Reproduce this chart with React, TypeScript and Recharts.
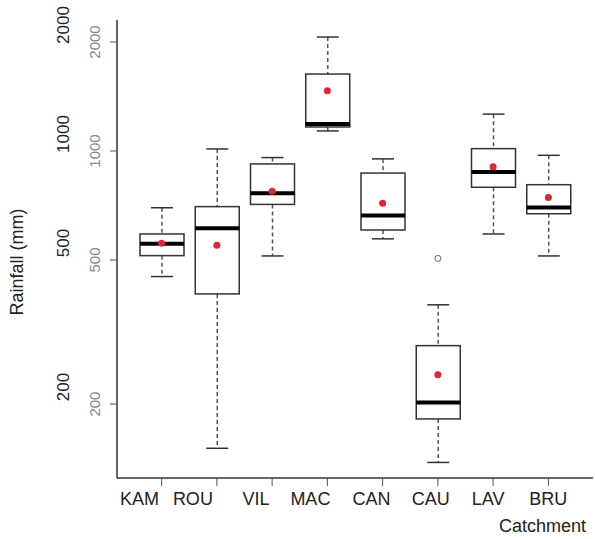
import React from "react";
import {
  Bar,
  ComposedChart,
  Scatter,
  XAxis,
  YAxis,
} from "recharts";

const catchments = ["KAM", "ROU", "VIL", "MAC", "CAN", "CAU", "LAV", "BRU"];
const whiskerLow = [450, 151, 513, 1136, 572, 138, 590, 513];
const q1 = [514, 403, 712, 1165, 605, 182, 794, 671];
const median = [554, 612, 764, 1188, 664, 202, 875, 698];
const q3 = [590, 702, 921, 1631, 869, 290, 1015, 807];
const whiskerHigh = [697, 1013, 959, 2064, 951, 376, 1264, 973];
const means = [556, 549, 774, 1466, 717, 241, 905, 744];
const outliers: (number | null)[] = [null, null, null, null, null, 505, null, null];
const yTicks = [200, 500, 1000, 2000];

const data = catchments.map((name, i) => ({
  name,
  range: [whiskerLow[i], whiskerHigh[i]],
  q1: q1[i],
  median: median[i],
  q3: q3[i],
  mean: means[i],
  outlier: outliers[i],
}));

// the category labels in the original sit a bit left of their ticks
const labelShift: Record<string, number> = {
  KAM: -22,
  ROU: -24,
  VIL: -16,
  MAC: -17,
  CAN: -11,
  CAU: -7,
  LAV: -5,
  BRU: 0,
};

// box drawn inside the whisker range bar; inner values placed in log space
function BoxShape(props: any) {
  const { x, y, width, height, payload } = props;
  const [lo, hi] = payload.range;
  const toY = (v: number) =>
    y + (height * (Math.log(hi) - Math.log(v))) / (Math.log(hi) - Math.log(lo));
  const cx = x + width / 2;
  const yQ1 = toY(payload.q1);
  const yQ3 = toY(payload.q3);
  const yMed = toY(payload.median);
  const yHi = y;
  const yLo = y + height;
  const cap = width / 4;
  return (
    <g>
      <line x1={cx} x2={cx} y1={yHi} y2={yQ3} stroke="#555" strokeWidth={1.5} strokeDasharray="4 3" />
      <line x1={cx} x2={cx} y1={yQ1} y2={yLo} stroke="#555" strokeWidth={1.5} strokeDasharray="4 3" />
      <line x1={cx - cap} x2={cx + cap} y1={yHi} y2={yHi} stroke="#333" strokeWidth={1.5} />
      <line x1={cx - cap} x2={cx + cap} y1={yLo} y2={yLo} stroke="#333" strokeWidth={1.5} />
      <rect x={x} y={yQ3} width={width} height={yQ1 - yQ3} fill="#fff" stroke="#333" strokeWidth={1.5} />
      <line x1={x} x2={x + width} y1={yMed} y2={yMed} stroke="#000" strokeWidth={4} />
    </g>
  );
}

function MeanDot(props: any) {
  const { cx, cy } = props;
  if (cx == null || cy == null || isNaN(cy)) return <g />;
  return <circle cx={cx} cy={cy} r={3.5} fill="#e0262a" />;
}

function OutlierDot(props: any) {
  const { cx, cy, payload } = props;
  if (payload == null || payload.outlier == null || isNaN(cy)) return <g />;
  return <circle cx={cx} cy={cy} r={3} fill="none" stroke="#666" strokeWidth={1} />;
}

function XTick(props: any) {
  const { x, y, payload } = props;
  const shift = labelShift[payload.value] ?? 0;
  return (
    <text x={x + shift} y={y} dy="0.71em" textAnchor="middle" fontSize={18} fill="#222">
      {payload.value}
    </text>
  );
}

function YTick(props: any) {
  const { x, y, payload } = props;
  const sx = x - 15;
  const bx = x - 46;
  const by = y - 17;
  return (
    <g>
      <text
        x={sx}
        y={y}
        transform={`rotate(-90, ${sx}, ${y})`}
        textAnchor="middle"
        dominantBaseline="central"
        fontSize={15}
        fill="#888"
      >
        {payload.value}
      </text>
      <text
        x={bx}
        y={by}
        transform={`rotate(-90, ${bx}, ${by})`}
        textAnchor="middle"
        dominantBaseline="central"
        fontSize={17}
        fill="#222"
      >
        {payload.value}
      </text>
    </g>
  );
}

export default function App() {
  return (
    <div
      style={{
        position: "absolute",
        left: 0,
        top: 0,
        background: "#fff",
        fontFamily: "'Liberation Sans', Arial, sans-serif",
      }}
    >
      <ComposedChart
        width={595}
        height={539}
        data={data}
        margin={{ top: 20, right: 2, bottom: 0, left: 0 }}
      >
        <XAxis
          dataKey="name"
          height={61}
          padding={{ left: 17, right: 17 }}
          tickSize={8}
          tickMargin={6}
          tickLine={{ stroke: "#555" }}
          axisLine={{ stroke: "#333", strokeWidth: 1.5 }}
          tick={<XTick />}
          label={(p: any) => {
            const vb = p.viewBox;
            return (
              <text x={vb.x + vb.width - 7} y={vb.y + 54} textAnchor="end" fontSize={18} fill="#222">
                Catchment
              </text>
            );
          }}
        />
        <XAxis
          xAxisId="top"
          dataKey="name"
          orientation="top"
          height={0}
          tick={false}
          tickLine={false}
          axisLine={{ stroke: "#333", strokeWidth: 1.5 }}
        />
        <YAxis
          type="number"
          scale="log"
          domain={[125, 2300]}
          allowDataOverflow
          ticks={yTicks}
          width={117}
          tickSize={7}
          tickMargin={0}
          tickLine={{ stroke: "#555" }}
          axisLine={{ stroke: "#333", strokeWidth: 1.5 }}
          tick={<YTick />}
          label={(p: any) => {
            const vb = p.viewBox;
            const lx = 17;
            const ly = vb.y + vb.height / 2 + 13;
            return (
              <text
                x={lx}
                y={ly}
                transform={`rotate(-90, ${lx}, ${ly})`}
                textAnchor="middle"
                dominantBaseline="central"
                fontSize={18}
                fill="#222"
              >
                Rainfall (mm)
              </text>
            );
          }}
        />
        <YAxis
          yAxisId="right"
          orientation="right"
          width={0}
          domain={[0, 1]}
          tick={false}
          tickLine={false}
          axisLine={{ stroke: "#333", strokeWidth: 1.5 }}
        />
        <Bar dataKey="range" barSize={44} shape={<BoxShape />} isAnimationActive={false} />
        <Scatter dataKey="outlier" shape={<OutlierDot />} isAnimationActive={false} />
        <Scatter dataKey="mean" shape={<MeanDot />} isAnimationActive={false} />
      </ComposedChart>
    </div>
  );
}
